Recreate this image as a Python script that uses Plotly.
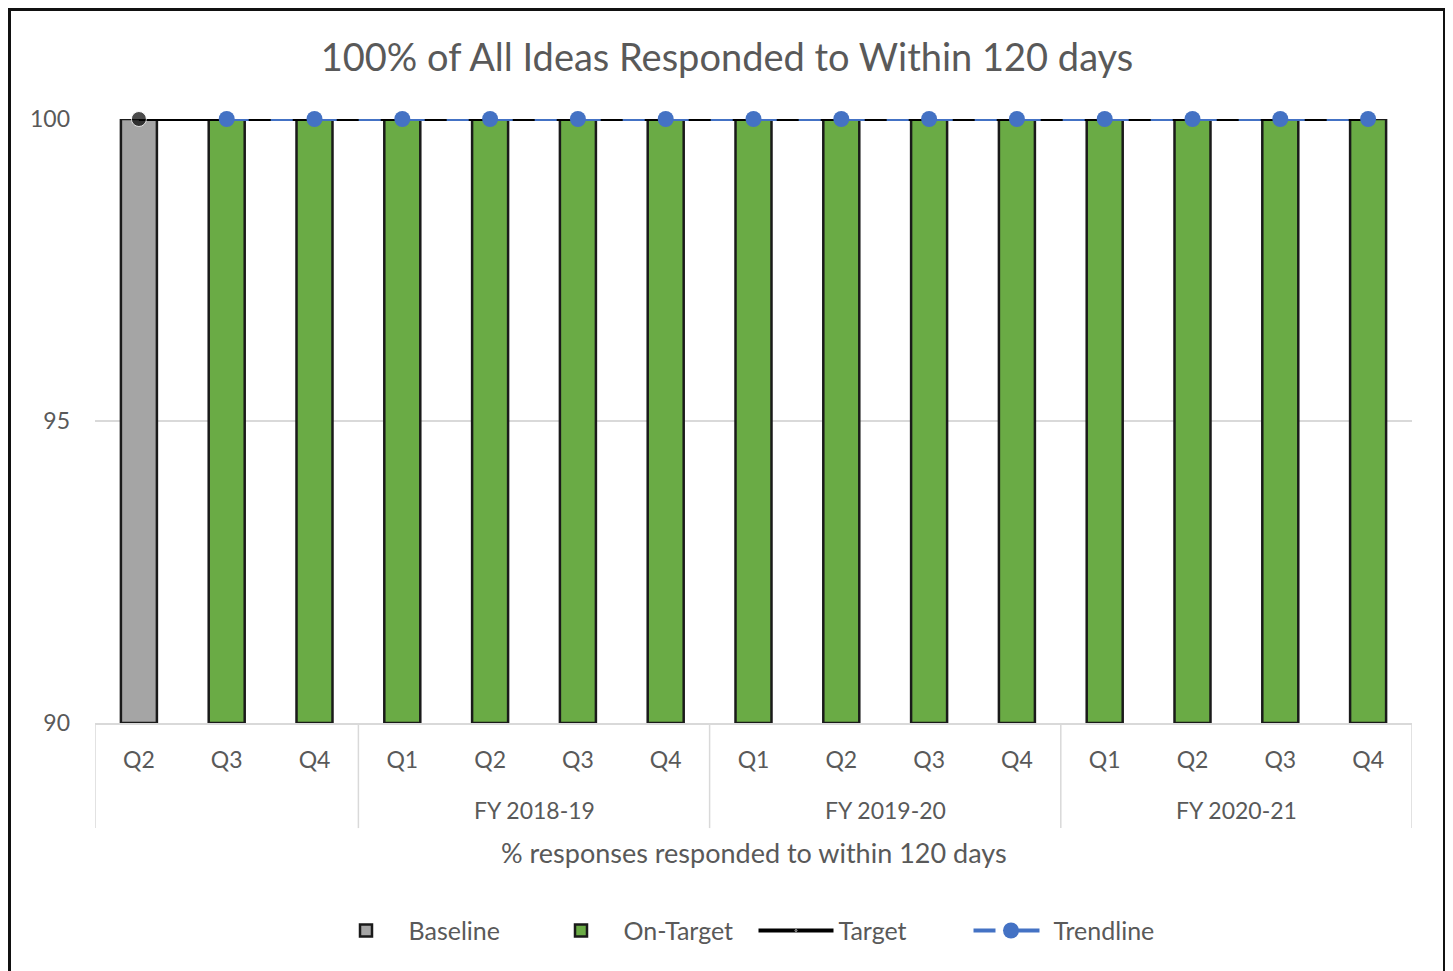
import plotly.graph_objects as go

# categories (fiscal year group / quarter)
fiscal_years = ["", "", "",
                "FY 2018-19", "FY 2018-19", "FY 2018-19", "FY 2018-19",
                "FY 2019-20", "FY 2019-20", "FY 2019-20", "FY 2019-20",
                "FY 2020-21", "FY 2020-21", "FY 2020-21", "FY 2020-21"]
quarters = ["Q2", "Q3", "Q4",
            "Q1", "Q2", "Q3", "Q4",
            "Q1", "Q2", "Q3", "Q4",
            "Q1", "Q2", "Q3", "Q4"]

baseline = [100] + [None] * 14
on_target = [None] + [100] * 14
target = [100] * 15
trendline = [None] + [100] * 14

Y_MIN = 90
idx = list(range(len(quarters)))
TEXT = '#595959'
GRID = '#D9D9D9'
FONT = 'Lato'

fig = go.Figure()

fig.add_trace(go.Bar(
    x=idx, y=[v - Y_MIN if v is not None else None for v in baseline], base=Y_MIN,
    name='Baseline', width=0.41,
    marker=dict(color='#A5A5A5', line=dict(color='#1a1a1a', width=2.5)),
))
fig.add_trace(go.Bar(
    x=idx, y=[v - Y_MIN if v is not None else None for v in on_target], base=Y_MIN,
    name='On-Target', width=0.41,
    marker=dict(color='#6AAB45', line=dict(color='#1a1a1a', width=2.5)),
))
fig.add_trace(go.Scatter(
    x=idx, y=target, name='Target', mode='lines+markers', cliponaxis=False,
    line=dict(color='#000000', width=4),
    marker=dict(size=[15] + [0] * 14, color='#000000'),
))
fig.add_trace(go.Scatter(
    x=idx, y=trendline, name='Trendline', mode='lines+markers', cliponaxis=False,
    line=dict(color='#4472C4', width=4, dash='22px,22px'),
    marker=dict(size=16, color='#4472C4'),
))

# group dividers and fiscal-year labels under the quarter labels
shapes = []
annotations = []
bounds = [i for i in range(1, len(fiscal_years)) if fiscal_years[i] != fiscal_years[i - 1]]
bounds = [0] + bounds + [len(fiscal_years)]
for b in bounds:
    shapes.append(dict(type='line', xref='x', yref='paper', x0=b - 0.5, x1=b - 0.5,
                       y0=0, y1=-0.174, line=dict(color=GRID, width=1.5)))
for s, e in zip(bounds[:-1], bounds[1:]):
    if fiscal_years[s]:
        annotations.append(dict(xref='x', yref='paper', x=(s + e - 1) / 2, y=-0.144,
                                text=fiscal_years[s], showarrow=False, yanchor='middle',
                                font=dict(family=FONT, size=23, color=TEXT)))
annotations.append(dict(xref='paper', yref='paper', x=0.5, y=-0.215, yanchor='middle',
                        text='% responses responded to within 120 days', showarrow=False,
                        font=dict(family=FONT, size=27, color=TEXT)))

# outer chart border
shapes.append(dict(type='rect', xref='paper', yref='paper',
                   x0=-87 / 1317, x1=1 + 34 / 1317, y0=-0.45, y1=1 + 111 / 604,
                   line=dict(color='#111111', width=6), layer='below'))

fig.update_layout(
    width=1438, height=963,
    title=dict(text='100% of All Ideas Responded to Within 120 days',
               x=0.5, xanchor='center', y=1 - 50 / 963, yanchor='middle',
               font=dict(family=FONT, size=38, color=TEXT)),
    barmode='overlay',
    margin=dict(l=87, r=34, t=111, b=248),
    paper_bgcolor='white', plot_bgcolor='white',
    font=dict(family=FONT, color=TEXT, size=23),
    showlegend=True,
    legend=dict(orientation='h', x=0.5, xanchor='center', y=-0.344, yanchor='middle',
                font=dict(size=25, color=TEXT), traceorder='normal',
                itemwidth=75, entrywidth=125, entrywidthmode='pixels'),
    xaxis=dict(range=[-0.5, len(idx) - 0.5], tickvals=idx, ticktext=quarters,
               showgrid=False, zeroline=False, showline=True, linecolor=GRID,
               linewidth=1.5, ticks='', ticklabelstandoff=16,
               tickfont=dict(size=23, color=TEXT)),
    yaxis=dict(range=[Y_MIN, 100], tickvals=[90, 95, 100], showgrid=True,
               gridcolor=GRID, gridwidth=1.5, zeroline=False, ticks='',
               tickfont=dict(size=23, color=TEXT), ticklabelstandoff=24),
    shapes=shapes,
    annotations=annotations,
)

fig.write_html("out.html")
